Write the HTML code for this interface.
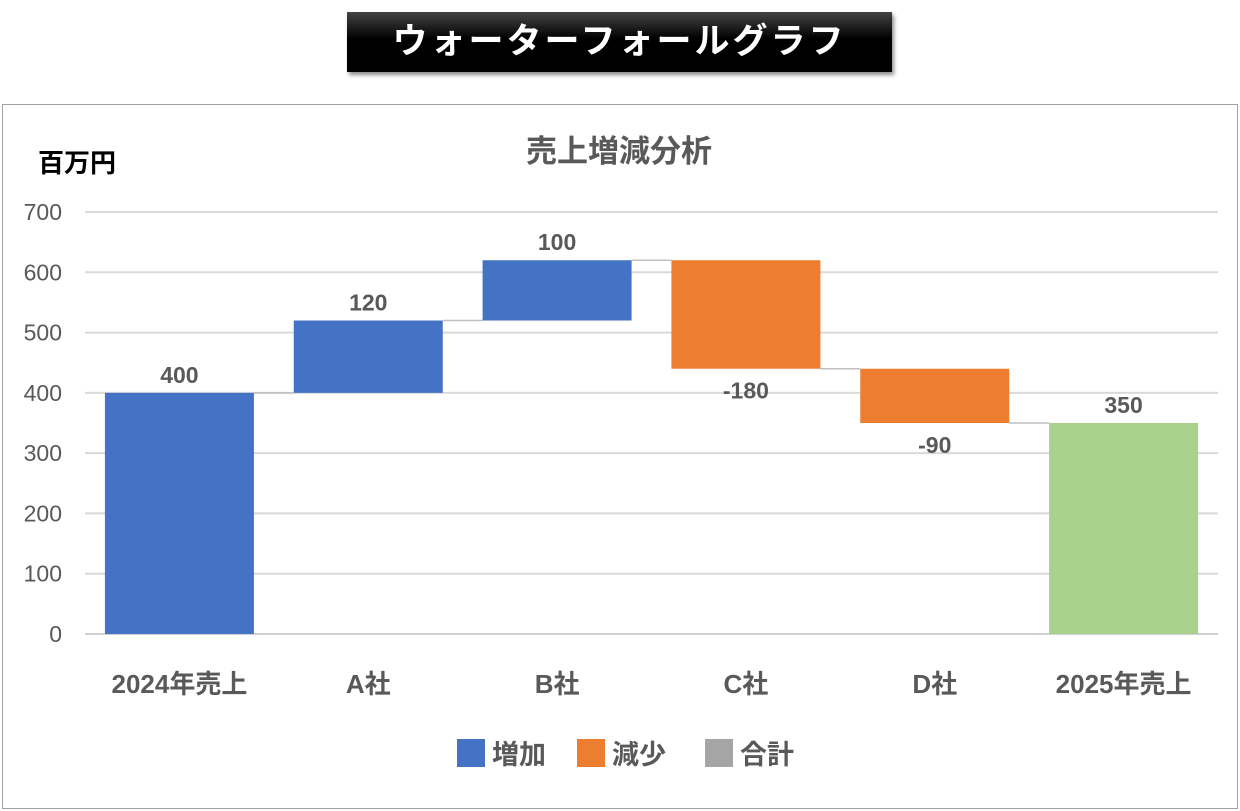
<!DOCTYPE html>
<html><head><meta charset="utf-8">
<style>
body{margin:0;width:1240px;height:811px;background:#fff;overflow:hidden;font-family:"Liberation Sans","Noto Sans CJK JP",sans-serif;}
#banner{position:absolute;left:347px;top:12px;width:545px;height:60px;background:linear-gradient(#444,#000 45%,#000);box-shadow:2px 3px 4px rgba(0,0,0,.45);color:#fff;font-size:35px;font-weight:bold;letter-spacing:3px;text-align:center;line-height:60px;}
#frame{position:absolute;left:2px;top:104px;width:1234px;height:703px;border:1px solid #a0a0a0;}
svg{position:absolute;left:0;top:0;}
</style></head><body>
<div id="banner">ウォーターフォールグラフ</div>
<div id="frame"></div>
<svg id="chart" width="1240" height="811" font-family="Liberation Sans, Noto Sans CJK JP, sans-serif"></svg>
<script>
const categories=["2024年売上","A社","B社","C社","D社","2025年売上"];
const values=[400,120,100,-180,-90,350];
const kinds=["start","inc","inc","dec","dec","total"];
const yTicks=[0,100,200,300,400,500,600,700];
const colors={start:"#4472C4",inc:"#4472C4",dec:"#ED7D31",total:"#A9D18E"};
const svg=document.getElementById('chart');
const NS="http://www.w3.org/2000/svg";
const y0=634,yTop=212,vMax=700,xL=85,xR=1218;
const y=v=>y0-(v/vMax)*(y0-yTop);
const band=(xR-xL)/categories.length;
const xc=i=>xL+band*(i+0.5);
const bw=149;
function mk(tag,attrs,text){const e=document.createElementNS(NS,tag);for(const k in attrs)e.setAttribute(k,attrs[k]);if(text!==undefined)e.textContent=text;svg.appendChild(e);return e;}
let t=mk('text',{x:619,y:162,'text-anchor':'middle','font-size':31,'font-weight':'bold',fill:'#595959'},'売上増減分析');


t=mk('text',{x:38,y:172,'font-size':26,'font-weight':'bold',fill:'#000'},'百万円');


yTicks.forEach(v=>{
 const g=mk('line',{x1:xL,x2:xR,y1:y(v),y2:y(v),stroke:v===0?'#d0d0d0':'#d9d9d9','stroke-width':2});
 
 
 const l=mk('text',{x:62,y:y(v)+8,'text-anchor':'end','font-size':23,fill:'#595959'},String(v));
 
 
});
let run=0;const tops=[];
values.forEach((v,i)=>{
 let a,b;
 if(kinds[i]==='total'||kinds[i]==='start'){a=0;b=v;run=v;}
 else{a=run;b=run+v;run=b;}
 const lo=Math.min(a,b),hi=Math.max(a,b);
 tops.push(run);
 const r=mk('rect',{x:xc(i)-bw/2,y:y(hi),width:bw,height:y(lo)-y(hi),fill:colors[kinds[i]]});
 
 
 const above=v>=0;
 const ly=above?y(hi)-10:y(lo)+30;
 const l=mk('text',{x:xc(i),y:ly,'text-anchor':'middle','font-size':23,'font-weight':'bold',fill:'#595959'},String(v));
 
 
 const c=mk('text',{x:xc(i),y:693,'text-anchor':'middle','font-size':26,'font-weight':'bold',fill:'#595959'},categories[i]);
 
 
});
for(let i=0;i<values.length-1;i++){
 const ln=mk('line',{x1:xc(i)+bw/2,x2:xc(i+1)-bw/2,y1:y(tops[i]),y2:y(tops[i]),stroke:'#bfbfbf','stroke-width':1.5});
 
 
}
const legend=[["増加",colors.inc,457],["減少",colors.dec,577],["合計","#A5A5A5",705]];
legend.forEach(([n,c,x])=>{
 const s=mk('rect',{x:x,y:739,width:28,height:28,fill:c});
 
 
 const l=mk('text',{x:x+35,y:764,'font-size':27,'font-weight':'bold',fill:'#595959'},n);
 
 
});
</script>
</body></html>
